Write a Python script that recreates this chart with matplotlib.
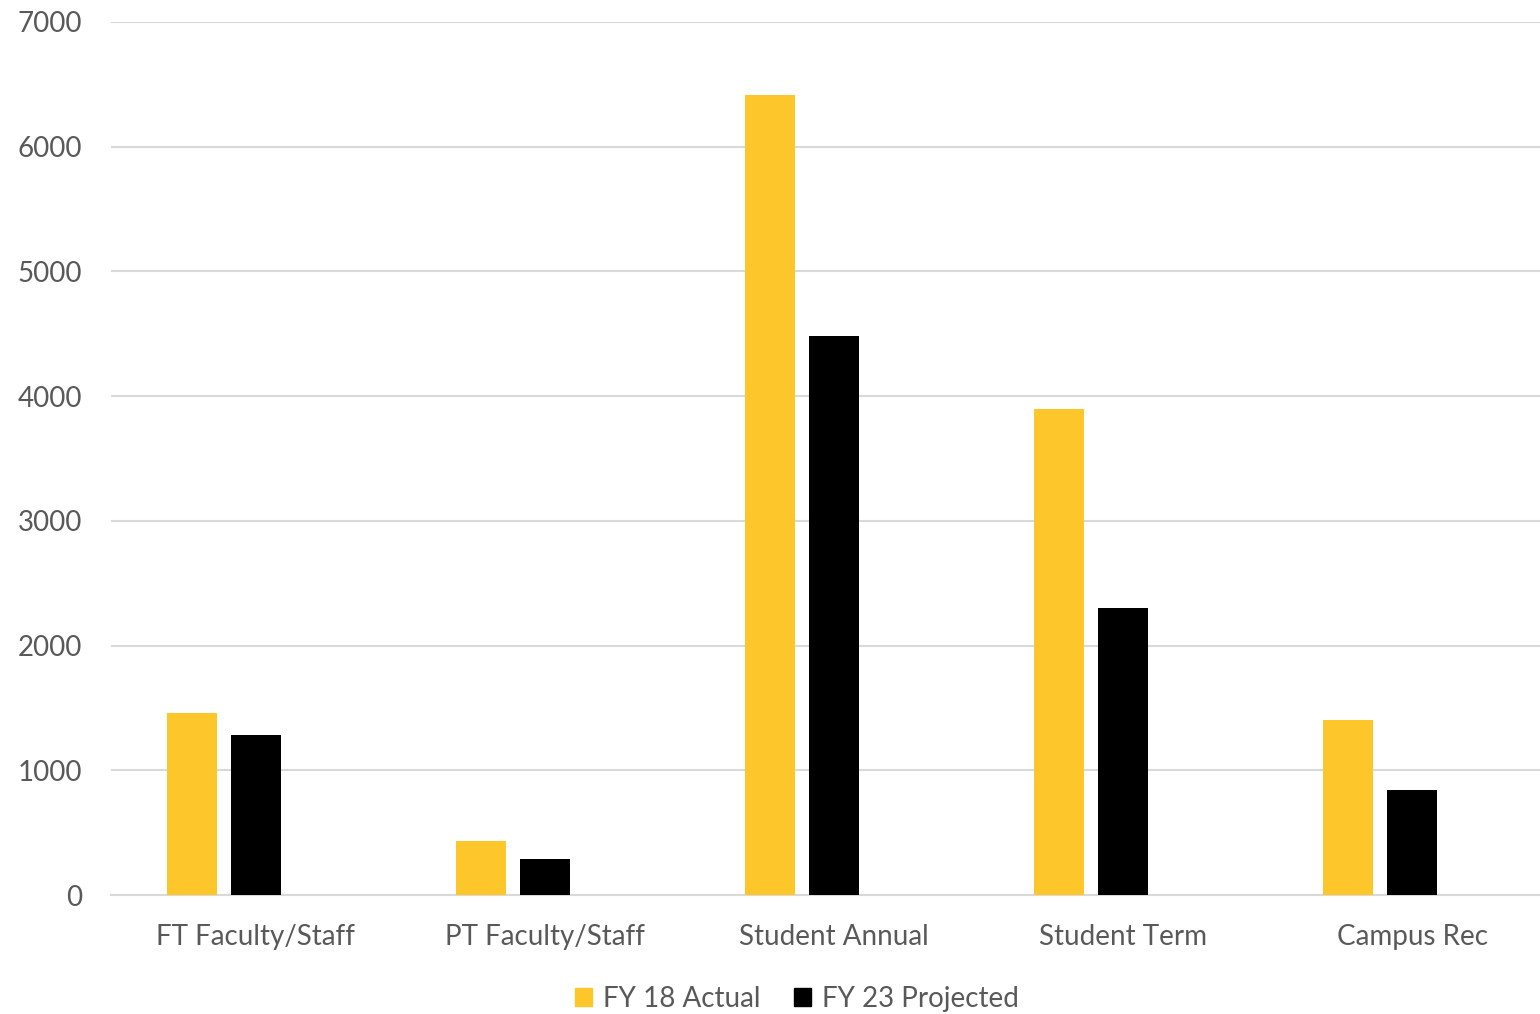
import numpy as np
import matplotlib
matplotlib.use("Agg")
import matplotlib.pyplot as plt
from matplotlib.patches import Patch

categories = ["FT Faculty/Staff", "PT Faculty/Staff", "Student Annual", "Student Term", "Campus Rec"]
fy18_actual = [1460, 430, 6415, 3895, 1400]
fy23_projected = [1285, 290, 4485, 2300, 845]
series_names = ["FY 18 Actual", "FY 23 Projected"]
yticks = [0, 1000, 2000, 3000, 4000, 5000, 6000, 7000]

YELLOW = "#FDC62A"
BLACK = "#000000"
TEXT = "#595959"
GRID = "#D9D9D9"

plt.rcParams["font.family"] = ["Lato", "DejaVu Sans"]

fig = plt.figure(figsize=(15.4, 10.14), dpi=100)
# plot area runs a little past the right edge of the image (cropped original)
ax = fig.add_axes([111 / 1540, 1 - 895 / 1014, (1557 - 111) / 1540, (895 - 22) / 1014])

x = np.arange(len(categories))
cat_px = (1557 - 111) / len(categories)
width = 50 / cat_px
step = 64 / cat_px
# Excel-style grouping with an empty third slot: yellow left, black centre
ax.bar(x - step, fy18_actual, width, color=YELLOW, zorder=3)
ax.bar(x, fy23_projected, width, color=BLACK, zorder=3)

ax.set_xlim(-0.5, len(categories) - 0.5)
ax.set_ylim(0, 7000)
ax.set_yticks(yticks)
ax.set_xticks(x)
ax.set_xticklabels(categories)
ax.tick_params(axis="both", length=0, labelsize=20, colors=TEXT)
ax.tick_params(axis="x", pad=21)
ax.tick_params(axis="y", pad=21)

ax.grid(axis="y", color=GRID, linewidth=1.5, zorder=0)
for side in ["top", "right", "left"]:
    ax.spines[side].set_visible(False)
ax.spines["bottom"].set_color(GRID)
ax.spines["bottom"].set_linewidth(1.5)

handles = [Patch(color=YELLOW), Patch(color=BLACK)]
fig.legend(handles, series_names, loc="center", bbox_to_anchor=(797 / 1540, 1 - 999 / 1014),
           ncol=2, frameon=False, fontsize=20, labelcolor=TEXT,
           handlelength=0.6, handleheight=0.6, handletextpad=0.4, columnspacing=1.2)

fig.savefig("out.png", dpi=100)
